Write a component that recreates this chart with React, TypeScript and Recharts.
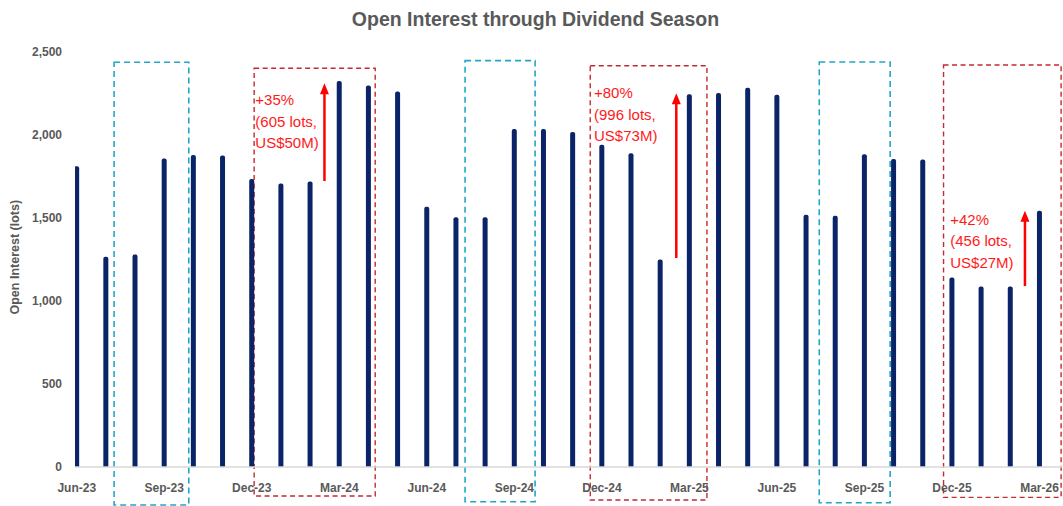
import React from "react";
import {
  ComposedChart,
  Bar,
  XAxis,
  YAxis,
  ReferenceArea,
  ReferenceLine,
  ReferenceDot,
} from "recharts";

const months = [
  "Jun-23", "Jul-23", "Aug-23", "Sep-23", "Oct-23", "Nov-23", "Dec-23", "Jan-24", "Feb-24", "Mar-24",
  "Apr-24", "May-24", "Jun-24", "Jul-24", "Aug-24", "Sep-24", "Oct-24", "Nov-24", "Dec-24", "Jan-25",
  "Feb-25", "Mar-25", "Apr-25", "May-25", "Jun-25", "Jul-25", "Aug-25", "Sep-25", "Oct-25", "Nov-25",
  "Dec-25", "Jan-26", "Feb-26", "Mar-26",
];

const openInterest = [
  1812, 1267, 1280, 1858, 1880, 1876, 1735, 1708, 1720, 2325,
  2298, 2262, 1568, 1505, 1505, 2036, 2036, 2018, 1942, 1890,
  1250, 2246, 2253, 2284, 2242, 1520, 1514, 1884, 1855, 1852,
  1142, 1088, 1088, 1544,
];

const yTicks = [0, 500, 1000, 1500, 2000, 2500];
const xTicks = [0, 3, 6, 9, 12, 15, 18, 21, 24, 27, 30, 33];

// dividend-season highlight boxes (in axis units: month index / lots)
const cyanBoxes = [
  { x1: 1.28, x2: 3.84, y1: -229, y2: 2438 },
  { x1: 13.31, x2: 15.71, y1: -209, y2: 2448 },
  { x1: 25.45, x2: 27.88, y1: -215, y2: 2440 },
];
const redBoxes = [
  { x1: 6.08, x2: 10.23, y1: -175, y2: 2402 },
  { x1: 17.6, x2: 21.6, y1: -199, y2: 2417 },
  { x1: 29.71, x2: 33.74, y1: -183, y2: 2422 },
];

const arrows = [
  { x: 8.49, from: 1723, to: 2311 },
  { x: 20.55, from: 1259, to: 2251 },
  { x: 32.5, from: 1090, to: 1544 },
];

const notes = [
  { x: 6.12, y: 2211, lines: ["+35%", "(605 lots,", "US$50M)"] },
  { x: 17.73, y: 2253, lines: ["+80%", "(996 lots,", "US$73M)"] },
  { x: 29.94, y: 1493, lines: ["+42%", "(456 lots,", "US$27M)"] },
];

const data = months.map((m, i) => ({ idx: i, month: m, value: openInterest[i] }));

const fmt = (v: number) => v.toLocaleString("en-US");

const ArrowShape = (props: any) => {
  const { x1, y1, x2, y2 } = props;
  const head = 11;
  const hw = 4.5;
  return (
    <g>
      <line x1={x1} y1={y1} x2={x2} y2={y2 + head - 1} stroke="#FF0000" strokeWidth={2.5} />
      <polygon
        points={`${x2},${y2} ${x2 - hw},${y2 + head} ${x2 + hw},${y2 + head}`}
        fill="#FF0000"
      />
    </g>
  );
};

const makeNote = (lines: string[]) => (props: any) => {
  const { cx, cy } = props;
  return (
    <text
      x={cx}
      y={cy}
      fill="#FF1A1A"
      fontSize={15}
      fontFamily="'Liberation Sans', Arial, sans-serif"
      textAnchor="start"
    >
      {lines.map((l, i) => (
        <tspan key={i} x={cx} dy={i === 0 ? "0.36em" : 21.5}>
          {l}
        </tspan>
      ))}
    </text>
  );
};

export default function App() {
  return (
    <div style={{ position: "absolute", left: 0, top: 0, width: 1063, height: 506, background: "#fff" }}>
      <div
        style={{
          position: "absolute",
          left: 0,
          top: 7,
          width: 1071,
          textAlign: "center",
          fontFamily: "'Liberation Sans', Arial, sans-serif",
          fontWeight: "bold",
          fontSize: 19.5,
          color: "#595959",
          lineHeight: "24px",
        }}
      >
        Open Interest through Dividend Season
      </div>
      <ComposedChart
        width={1063}
        height={506}
        data={data}
        margin={{ top: 52, right: 1, bottom: 0, left: 0 }}
      >
        <XAxis
          dataKey="idx"
          type="number"
          domain={[-0.06, 33.77]}
          allowDataOverflow
          ticks={xTicks}
          tickFormatter={(v: number) => months[v]}
          interval={0}
          tickLine={false}
          tickSize={0}
          tickMargin={16}
          height={39}
          axisLine={{ stroke: "#D9D9D9", strokeWidth: 1.5 }}
          tick={{ fill: "#595959", fontSize: 12, fontWeight: "bold", fontFamily: "'Liberation Sans', Arial, sans-serif" }}
        />
        <YAxis
          type="number"
          domain={[0, 2500]}
          ticks={yTicks}
          width={75}
          axisLine={false}
          tickLine={false}
          tickSize={0}
          tickMargin={13}
          tickFormatter={fmt}
          tick={{ fill: "#595959", fontSize: 12, fontWeight: "bold", fontFamily: "'Liberation Sans', Arial, sans-serif" }}
          label={{
            value: "Open Interest (lots)",
            angle: -90,
            position: "insideLeft",
            offset: 0,
            dx: 15,
            dy: 55,
            style: { fill: "#595959", fontSize: 12.5, fontWeight: "bold", fontFamily: "'Liberation Sans', Arial, sans-serif" },
          }}
        />
        <Bar dataKey="value" fill="#0B2468" barSize={5} radius={[2, 2, 0, 0]} isAnimationActive={false} />
        {cyanBoxes.map((b, i) => (
          <ReferenceArea
            key={"c" + i}
            x1={b.x1}
            x2={b.x2}
            y1={b.y1}
            y2={b.y2}
            ifOverflow="visible"
            fill="none"
            fillOpacity={0}
            stroke="#23A6C6"
            strokeWidth={1.6}
            strokeDasharray="6 4"
          />
        ))}
        {redBoxes.map((b, i) => (
          <ReferenceArea
            key={"r" + i}
            x1={b.x1}
            x2={b.x2}
            y1={b.y1}
            y2={b.y2}
            ifOverflow="visible"
            fill="none"
            fillOpacity={0}
            stroke="#C42A30"
            strokeWidth={1.4}
            strokeDasharray="5 3.5"
          />
        ))}
        {arrows.map((a, i) => (
          <ReferenceLine
            key={"a" + i}
            segment={[
              { x: a.x, y: a.from },
              { x: a.x, y: a.to },
            ]}
            ifOverflow="visible"
            shape={ArrowShape}
          />
        ))}
        {notes.map((n, i) => (
          <ReferenceDot key={"n" + i} x={n.x} y={n.y} ifOverflow="visible" shape={makeNote(n.lines)} />
        ))}
      </ComposedChart>
    </div>
  );
}
